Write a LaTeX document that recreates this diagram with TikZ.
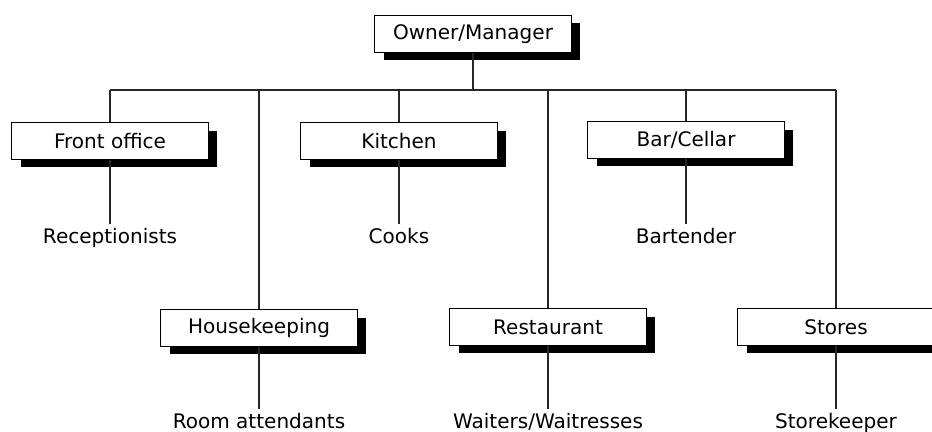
\documentclass[tikz,border=0pt]{standalone}
\usepackage{fontspec}
\setmainfont{DejaVu Sans}
\usetikzlibrary{shadows}
\begin{document}
\begin{tikzpicture}
    [x=0.02cm, y=-0.02cm,
     every node/.style={font=\fontsize{11.4}{13.5}\selectfont},
     unit/.style={draw=black, line width=0.6pt, fill=white, minimum width=3.94cm, minimum height=0.74cm,
                  drop shadow={shadow xshift=0.18cm, shadow yshift=-0.16cm, fill=black, opacity=1}},
     staff/.style={anchor=base, inner sep=2pt},
     link/.style={draw=black!85, line width=0.8pt}]
    \useasboundingbox (0,0) rectangle (932,432);
    % departments
    \node[unit] (owner)   at (473,34)  {Owner/Manager};
    \node[unit] (front)   at (110,141) {Front office};
    \node[unit] (kitchen) at (399,141) {Kitchen};
    \node[unit] (bar)     at (686,140) {Bar/Cellar};
    \node[unit] (house)   at (259,328) {Housekeeping};
    \node[unit] (rest)    at (548,327) {Restaurant};
    \node[unit] (stores)  at (836,327) {Stores};
    % staff
    \node[staff] (recep)  at (110,243) {Receptionists};
    \node[staff] (cooks)  at (399,243) {Cooks};
    \node[staff] (barman) at (686,243) {Bartender};
    \node[staff] (room)   at (259,428) {Room attendants};
    \node[staff] (waiter) at (548,428) {Waiters/Waitresses};
    \node[staff] (keeper) at (836,428) {Storekeeper};
    % lines
    \coordinate (bus) at (473,90);
    \draw[link] (owner.south) -- (owner.south |- bus);
    \draw[link] (front.north |- bus) -- (stores.north |- bus);
    \foreach \n/\s in {front/recep, kitchen/cooks, bar/barman, house/room, rest/waiter, stores/keeper}
    {
        \draw[link] (\n.north |- bus) -- (\n.north);
        \draw[link] (\n.south) -- (\s.north);
    }
\end{tikzpicture}
\end{document}
